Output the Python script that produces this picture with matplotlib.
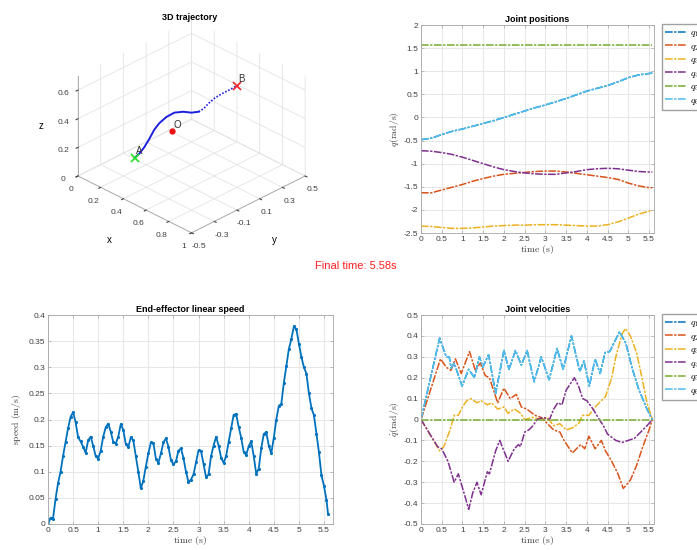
import numpy as np
import matplotlib
matplotlib.use('Agg')
import matplotlib.pyplot as plt

# ---- data ----
final_time = 5.58

# 3D path waypoints (m)
path_x = [0.300, 0.318, 0.337, 0.357, 0.377, 0.396, 0.424, 0.455, 0.491, 0.522, 0.550, 0.570, 0.589, 0.613, 0.640, 0.672, 0.700]
path_y = [-0.300, -0.278, -0.254, -0.229, -0.204, -0.180, -0.145, -0.106, -0.062, -0.022, 0.012, 0.037, 0.062, 0.091, 0.126, 0.165, 0.200]
path_z = [0.167, 0.194, 0.236, 0.293, 0.357, 0.399, 0.440, 0.467, 0.470, 0.460, 0.464, 0.484, 0.519, 0.553, 0.580, 0.606, 0.632]
point_A = (0.30, -0.30, 0.167)
point_B = (0.70, 0.20, 0.632)
point_O = (0.40, -0.07, 0.30)

# joint positions
t_pos = [0, 0.25, 0.5, 0.75, 1.0, 1.25, 1.5, 1.75, 2.0, 2.25, 2.5, 2.75, 3.0, 3.25,
         3.5, 3.75, 4.0, 4.25, 4.5, 4.75, 5.0, 5.25, 5.5, 5.58]
q2_pos = [-1.63, -1.63, -1.57, -1.51, -1.45, -1.38, -1.32, -1.27, -1.23, -1.21, -1.19, -1.17,
          -1.16, -1.16, -1.18, -1.21, -1.24, -1.27, -1.30, -1.34, -1.42, -1.48, -1.52, -1.52]
q3_pos = [-2.35, -2.36, -2.38, -2.40, -2.40, -2.39, -2.37, -2.35, -2.34, -2.33, -2.33, -2.32,
          -2.32, -2.32, -2.33, -2.34, -2.35, -2.35, -2.32, -2.26, -2.18, -2.09, -2.03, -2.01]
q4_pos = [-0.72, -0.73, -0.76, -0.80, -0.86, -0.93, -1.00, -1.07, -1.13, -1.17, -1.20, -1.22,
          -1.23, -1.23, -1.20, -1.17, -1.13, -1.11, -1.10, -1.11, -1.14, -1.17, -1.18, -1.18]
q5_pos = [1.57] * len(t_pos)
q6_pos = [-0.48, -0.45, -0.37, -0.30, -0.25, -0.19, -0.13, -0.07, 0.0, 0.07, 0.14, 0.21,
          0.27, 0.34, 0.41, 0.49, 0.57, 0.63, 0.69, 0.77, 0.86, 0.92, 0.95, 0.96]
q1_pos = q6_pos  # hidden under q6

# end-effector speed, sampled every 0.05 s
t_speed = [0, 0.05, 0.1, 0.15, 0.2, 0.25, 0.3, 0.35, 0.4, 0.45, 0.5, 0.55, 0.6, 0.65, 0.7, 0.75,
           0.8, 0.85, 0.9, 0.95, 1.0, 1.05, 1.1, 1.15, 1.2, 1.25, 1.3, 1.35, 1.4, 1.45, 1.5, 1.55,
           1.6, 1.65, 1.7, 1.75, 1.8, 1.85, 1.9, 1.95, 2.0, 2.05, 2.1, 2.15, 2.2, 2.25, 2.3, 2.35,
           2.4, 2.45, 2.5, 2.55, 2.6, 2.65, 2.7, 2.75, 2.8, 2.85, 2.9, 2.95, 3.0, 3.05, 3.1, 3.15,
           3.2, 3.25, 3.3, 3.35, 3.4, 3.45, 3.5, 3.55, 3.6, 3.65, 3.7, 3.75, 3.8, 3.85, 3.9, 3.95,
           4.0, 4.05, 4.1, 4.15, 4.2, 4.25, 4.3, 4.35, 4.4, 4.45, 4.5, 4.55, 4.6, 4.65, 4.7, 4.75,
           4.8, 4.85, 4.9, 4.95, 5.0, 5.05, 5.1, 5.15, 5.2, 5.25, 5.3, 5.35, 5.4, 5.45, 5.5, 5.55, 5.58]
speed = [0, 0.012, 0.010, 0.048, 0.078, 0.100, 0.130, 0.157, 0.183, 0.205, 0.214, 0.195, 0.166,
         0.158, 0.148, 0.136, 0.160, 0.167, 0.150, 0.130, 0.125, 0.140, 0.167, 0.185, 0.192, 0.177,
         0.157, 0.154, 0.167, 0.191, 0.180, 0.153, 0.147, 0.166, 0.160, 0.130, 0.100, 0.068, 0.083,
         0.110, 0.135, 0.156, 0.155, 0.125, 0.117, 0.135, 0.156, 0.164, 0.148, 0.122, 0.114, 0.120,
         0.140, 0.145, 0.126, 0.100, 0.080, 0.085, 0.095, 0.118, 0.141, 0.139, 0.115, 0.089, 0.095,
         0.130, 0.150, 0.167, 0.150, 0.127, 0.117, 0.130, 0.157, 0.183, 0.209, 0.210, 0.186, 0.165,
         0.138, 0.132, 0.149, 0.158, 0.130, 0.096, 0.106, 0.145, 0.172, 0.176, 0.150, 0.135, 0.165,
         0.200, 0.226, 0.230, 0.270, 0.302, 0.335, 0.354, 0.378, 0.373, 0.345, 0.320, 0.300, 0.288,
         0.250, 0.222, 0.208, 0.173, 0.137, 0.093, 0.073, 0.046, 0.020]

# joint velocities
t2_vel = [0, 0.47, 0.61, 0.72, 0.83, 0.97, 1.17, 1.31, 1.43, 1.55, 1.65, 1.85, 2.0, 2.15, 2.3,
          2.42, 2.55, 2.75, 2.9, 3.05, 3.2, 3.35, 3.45, 3.65, 3.85, 3.95, 4.05, 4.2, 4.35, 4.45,
          4.6, 4.75, 4.88, 5.05, 5.2, 5.35, 5.5, 5.58]
q2_vel = [0, 0.29, 0.25, 0.235, 0.29, 0.22, 0.325, 0.235, 0.27, 0.21, 0.20, 0.08, 0.15, 0.10,
          0.12, 0.06, 0.05, 0.02, 0.01, -0.02, -0.05, -0.06, -0.10, -0.16, -0.12, -0.14, -0.08,
          -0.14, -0.10, -0.15, -0.20, -0.26, -0.33, -0.29, -0.22, -0.13, -0.05, 0]
t3_vel = [0, 0.45, 0.55, 0.7, 0.8, 0.9, 1.0, 1.1, 1.2, 1.35, 1.45, 1.6, 1.7, 1.85, 2.0, 2.1,
          2.25, 2.4, 2.5, 2.7, 2.9, 3.05, 3.2, 3.35, 3.5, 3.65, 3.8, 3.9, 4.05, 4.2, 4.35, 4.45,
          4.6, 4.7, 4.85, 4.93, 5.05, 5.2, 5.35, 5.45, 5.58]
q3_vel = [0, -0.15, -0.13, -0.05, 0.02, 0.02, 0.06, 0.09, 0.10, 0.08, 0.09, 0.07, 0.08, 0.05,
          0.06, 0.03, 0.05, 0.03, 0.0, 0.01, 0.0, 0.01, -0.03, -0.02, -0.05, -0.04, -0.02, 0.02,
          0.02, 0.06, 0.09, 0.11, 0.20, 0.30, 0.41, 0.435, 0.40, 0.32, 0.18, 0.08, 0]
t4_vel = [0, 0.4, 0.5, 0.65, 0.8, 0.9, 1.05, 1.15, 1.25, 1.35, 1.45, 1.6, 1.65, 1.8, 1.9, 2.0,
          2.1, 2.25, 2.35, 2.4, 2.5, 2.6, 2.7, 2.8, 2.95, 3.1, 3.2, 3.3, 3.4, 3.5, 3.7, 3.8, 3.9,
          4.0, 4.15, 4.3, 4.4, 4.5, 4.7, 4.85, 5.0, 5.15, 5.3, 5.45, 5.58]
q4_vel = [0, -0.13, -0.14, -0.20, -0.30, -0.26, -0.36, -0.43, -0.35, -0.30, -0.36, -0.25, -0.26,
          -0.15, -0.10, -0.15, -0.20, -0.14, -0.12, -0.13, -0.06, -0.05, -0.03, 0.0, 0.01, 0.0,
          0.05, 0.08, 0.07, 0.14, 0.20, 0.16, 0.10, 0.09, 0.05, 0.0, -0.03, -0.07, -0.10, -0.11,
          -0.10, -0.09, -0.06, -0.03, 0]
t5_vel = [0, 5.58]
q5_vel = [0, 0]
t6_vel = [0, 0.45, 0.61, 0.68, 0.73, 0.8, 0.99, 1.15, 1.29, 1.41, 1.49, 1.63, 1.80, 2.0, 2.12,
          2.28, 2.42, 2.56, 2.73, 2.9, 3.09, 3.28, 3.43, 3.63, 3.83, 3.93, 4.06, 4.2, 4.32, 4.44,
          4.55, 4.79, 4.94, 5.1, 5.26, 5.45, 5.58]
q6_vel = [0, 0.39, 0.30, 0.30, 0.245, 0.27, 0.16, 0.24, 0.20, 0.30, 0.25, 0.31, 0.125, 0.33,
          0.24, 0.33, 0.26, 0.33, 0.18, 0.30, 0.19, 0.34, 0.24, 0.40, 0.23, 0.28, 0.16, 0.29, 0.22,
          0.32, 0.325, 0.42, 0.365, 0.24, 0.14, 0.05, 0]
t1_vel, q1_vel = t6_vel, q6_vel  # hidden under q6

# ---- style ----
colors = ['#0072BD', '#D95319', '#EDB120', '#7E2F8E', '#77AC30', '#4DBEEE']
labels = [r'$q_%d$' % i for i in range(1, 7)]
plt.rcParams['font.family'] = 'Liberation Sans'
plt.rcParams['mathtext.fontset'] = 'cm'
tick_fs = 6
title_fs = 6.5
label_fs = 7
box_grey = '#a6a6a6'
ls_joint = (0, (5, 1, 1.5, 1))
time_ticks = np.arange(0, 5.51, 0.5)
time_labels = ['0', '0.5', '1', '1.5', '2', '2.5', '3', '3.5', '4', '4.5', '5', '5.5']


def matlab_style(ax):
    ax.grid(True, color='#e3e3e3', linewidth=0.6)
    ax.set_axisbelow(True)
    for s in ax.spines.values():
        s.set_color(box_grey)
        s.set_linewidth(0.6)
    ax.tick_params(direction='in', length=2.5, width=0.5, colors=box_grey,
                   labelcolor='#404040', labelsize=tick_fs, top=True, right=True, pad=2)


def joint_legend(ax, top_px):
    fig.legend(*ax.get_legend_handles_labels(), loc='upper left',
               bbox_to_anchor=(662 / 697, 1 - top_px / 550), borderaxespad=0, fontsize=7,
               frameon=True, fancybox=False, edgecolor='#a0a0a0', framealpha=1,
               handlelength=2.25, labelspacing=0.15, borderpad=0.35, handletextpad=0.3)


fig = plt.figure(figsize=(6.97, 5.5), dpi=100)

# 3D trajectory
ax3 = fig.add_axes([0.045, 0.54, 0.45, 0.45], projection='3d', proj_type='ortho')
ax3.view_init(elev=30, azim=-45)
ax3.set_box_aspect((1, 1, 0.72))
ax3.plot(path_x[:11], path_y[:11], path_z[:11], color='#1f1fe0', lw=1.4)
ax3.plot(path_x[10:], path_y[10:], path_z[10:], color='#1f1fe0', lw=1.2, ls=(0, (1, 1)))
ax3.plot([point_A[0]], [point_A[1]], [point_A[2]], 'x', color='#22dd22', ms=6, mew=1.2)
ax3.plot([point_B[0]], [point_B[1]], [point_B[2]], 'x', color='#ee2222', ms=6, mew=1.2)
ax3.plot([point_O[0]], [point_O[1]], [point_O[2]], 'o', color='#ee1111', ms=3.5)
ax3.text(point_A[0] + 0.01, point_A[1], point_A[2] + 0.03, 'A', fontsize=7, color='#333333')
ax3.text(point_B[0] + 0.01, point_B[1], point_B[2] + 0.03, 'B', fontsize=7, color='#333333')
ax3.text(point_O[0] + 0.01, point_O[1], point_O[2] + 0.03, 'O', fontsize=7, color='#333333')
ax3.set_xlim(0, 1)
ax3.set_ylim(-0.5, 0.5)
ax3.set_zlim(0, 0.7)
ax3.set_xticks([0, 0.2, 0.4, 0.6, 0.8, 1])
ax3.set_xticklabels(['0', '0.2', '0.4', '0.6', '0.8', '1'])
ax3.set_yticks([-0.5, -0.3, -0.1, 0.1, 0.3, 0.5])
ax3.set_yticklabels(['-0.5', '-0.3', '-0.1', '0.1', '0.3', '0.5'])
ax3.set_zticks([0, 0.2, 0.4, 0.6])
ax3.set_zticklabels(['0', '0.2', '0.4', '0.6'])
ax3.zaxis.set_ticks_position('lower')
ax3.zaxis.set_label_position('lower')
ax3.set_xlabel('x', fontsize=7, labelpad=0)
ax3.set_ylabel('y', fontsize=7, labelpad=0)
ax3.set_zlabel('z', fontsize=7, labelpad=-6)
for axis in (ax3.xaxis, ax3.yaxis, ax3.zaxis):
    axis.set_pane_color((1, 1, 1, 0))
    axis.pane.set_edgecolor('#d0d0d0')
    axis._axinfo['grid'].update(color='#e3e3e3', linewidth=0.6)
    axis._axinfo['tick'].update(inward_factor=0.2, outward_factor=0.0)
    axis.line.set_color(box_grey)
    axis.line.set_linewidth(0.6)
ax3.tick_params(labelsize=tick_fs, colors='#404040', pad=-2)
fig.text(190 / 697, 1 - 18 / 550, '3D trajectory', fontsize=title_fs, fontweight='bold',
         ha='center', va='center')

# joint positions
axp = fig.add_axes([421 / 697, 1 - 233 / 550, 233 / 697, 208 / 550])
pos_q = [q1_pos, q2_pos, q3_pos, q4_pos, q5_pos, q6_pos]
for q, c, lab in zip(pos_q, colors, labels):
    axp.plot(t_pos, q, color=c, lw=1.1, ls=ls_joint, label=lab)
axp.set_xlim(0, 5.62)
axp.set_ylim(-2.5, 2)
axp.set_xticks(time_ticks)
axp.set_xticklabels(time_labels)
axp.set_yticks(np.arange(-2.5, 2.01, 0.5))
axp.set_yticklabels(['-2.5', '-2', '-1.5', '-1', '-0.5', '0', '0.5', '1', '1.5', '2'])
matlab_style(axp)
axp.set_title('Joint positions', fontsize=title_fs, fontweight='bold', pad=2)
axp.set_xlabel(r'$\mathrm{time\ (s)}$', fontsize=label_fs, color='#404040', labelpad=0)
axp.set_ylabel(r'$q\mathrm{(rad/s)}$', fontsize=label_fs, color='#404040', labelpad=2)
joint_legend(axp, 24)

# end-effector speed
axs = fig.add_axes([48 / 697, 1 - 524 / 550, 285 / 697, 209 / 550])
axs.plot(t_speed, speed, color=colors[0], lw=1.3, marker='.', ms=2.5)
axs.set_xlim(0, 5.68)
axs.set_ylim(0, 0.4)
axs.set_xticks(time_ticks)
axs.set_xticklabels(time_labels)
axs.set_yticks(np.arange(0, 0.401, 0.05))
axs.set_yticklabels(['0', '0.05', '0.1', '0.15', '0.2', '0.25', '0.3', '0.35', '0.4'])
matlab_style(axs)
axs.set_title('End-effector linear speed', fontsize=title_fs, fontweight='bold', pad=2)
axs.set_xlabel(r'$\mathrm{time\ (s)}$', fontsize=label_fs, color='#404040', labelpad=0)
axs.set_ylabel(r'$\mathrm{speed\ (m/s)}$', fontsize=label_fs, color='#404040', labelpad=4)

# joint velocities
axv = fig.add_axes([421 / 697, 1 - 524 / 550, 233 / 697, 209 / 550])
vel_t = [t1_vel, t2_vel, t3_vel, t4_vel, t5_vel, t6_vel]
vel_q = [q1_vel, q2_vel, q3_vel, q4_vel, q5_vel, q6_vel]
for tq, q, c, lab in zip(vel_t, vel_q, colors, labels):
    axv.plot(tq, q, color=c, lw=1.1, ls=ls_joint, label=lab)
axv.set_xlim(0, 5.62)
axv.set_ylim(-0.5, 0.5)
axv.set_xticks(time_ticks)
axv.set_xticklabels(time_labels)
axv.set_yticks(np.arange(-0.5, 0.501, 0.1))
axv.set_yticklabels(['-0.5', '-0.4', '-0.3', '-0.2', '-0.1', '0', '0.1', '0.2', '0.3', '0.4', '0.5'])
matlab_style(axv)
axv.set_title('Joint velocities', fontsize=title_fs, fontweight='bold', pad=2)
axv.set_xlabel(r'$\mathrm{time\ (s)}$', fontsize=label_fs, color='#404040', labelpad=0)
axv.set_ylabel(r'$\dot{q}\mathrm{(rad/s)}$', fontsize=label_fs, color='#404040', labelpad=2)
joint_legend(axv, 314)

fig.text(356 / 697, 1 - 266 / 550, 'Final time: %.2fs' % final_time, color='#ff2020',
         fontsize=8, ha='center', va='center')

fig.savefig('out.png', dpi=100)
